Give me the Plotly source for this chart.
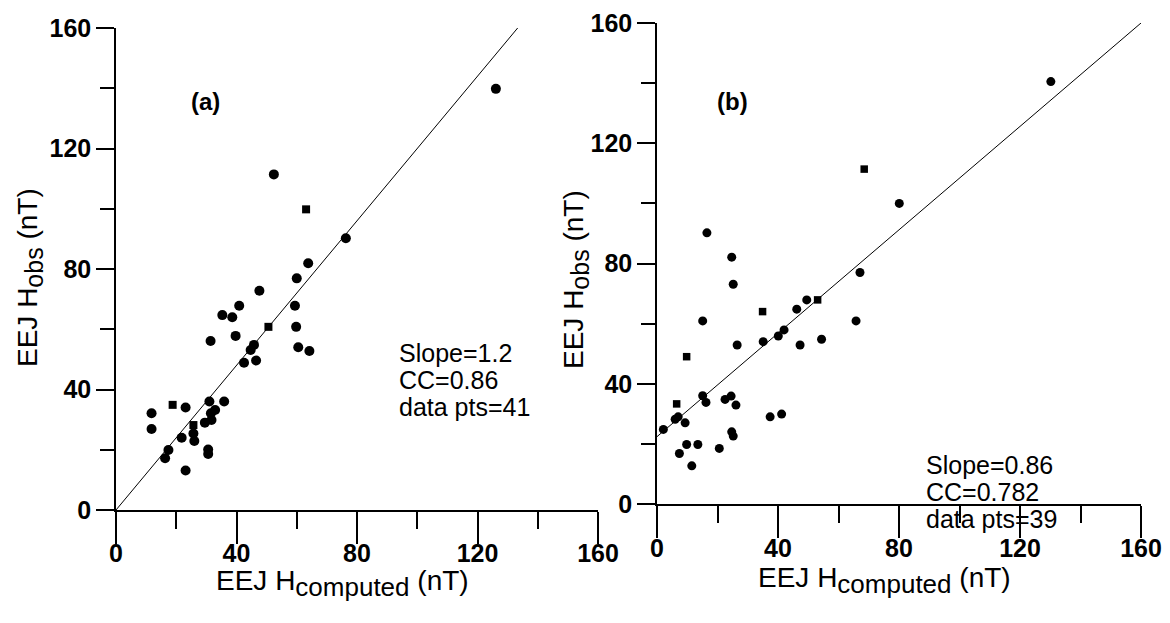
import plotly.graph_objects as go

# ---- Panel (a) data ----
a_circle_x = [63.8, 60.0, 47.6, 40.9, 35.3, 38.6, 59.4, 59.8, 39.7, 31.4, 45.8, 44.7, 60.5, 64.2,
              42.5, 46.5, 31.0, 35.9, 23.1, 11.8, 32.9, 31.5, 11.8, 31.7, 29.5, 25.7, 21.8, 26.0,
              17.4, 16.3, 30.6, 30.6, 23.1, 52.4, 126.1, 76.3]
a_circle_y = [81.9, 76.9, 72.8, 67.8, 64.7, 64.0, 67.8, 60.8, 57.8, 56.1, 54.8, 53.1, 54.0, 52.8,
              48.9, 49.6, 36.0, 36.0, 34.0, 32.1, 33.2, 32.1, 26.9, 29.9, 29.0, 25.4, 24.0, 22.9,
              19.9, 17.2, 20.1, 18.6, 13.1, 111.4, 139.8, 90.2]
a_square_x = [63.1, 18.8, 25.7, 50.6]
a_square_y = [99.8, 34.9, 28.2, 60.8]
a_slope, a_intercept = 1.2, 0.0

# ---- Panel (b) data ----
b_circle_x = [24.7, 25.2, 67.1, 49.5, 46.2, 65.8, 15.1, 42.0, 40.1, 35.1, 26.5, 47.3, 54.4,
              15.1, 16.2, 22.5, 24.5, 26.1, 37.4, 41.2, 6.0, 7.0, 9.3, 2.1, 24.7, 25.2, 9.8,
              13.5, 20.6, 7.4, 11.5, 80.1, 130.2, 16.5]
b_circle_y = [82.1, 73.1, 77.0, 67.9, 64.8, 60.9, 60.9, 57.9, 55.9, 54.0, 52.9, 52.9, 54.8,
              36.0, 33.8, 34.8, 35.9, 32.9, 29.0, 29.9, 28.2, 29.0, 27.0, 24.8, 24.0, 22.6, 19.8,
              19.8, 18.5, 16.8, 12.7, 100.0, 140.5, 90.2]
b_square_x = [68.5, 53.1, 34.9, 9.8, 6.5]
b_square_y = [111.4, 67.9, 64.0, 49.0, 33.3]
b_slope, b_intercept = 0.86, 22.4

tick_vals = [0, 40, 80, 120, 160]
tick_text = ["0", "40", "80", "120", "160"]

a_stats = ["Slope=1.2", "CC=0.86", "data pts=41"]
b_stats = ["Slope=0.86", "CC=0.782", "data pts=39"]

W, H = 1170, 623
FONT = "Liberation Sans, Arial, sans-serif"

def px_x(p):
    return p / W

def px_y(p):
    return 1 - p / H

fig = go.Figure()

mk = dict(color="black")
fig.add_trace(go.Scatter(x=a_circle_x, y=a_circle_y, mode="markers",
                         marker=dict(symbol="circle", size=10, **mk), xaxis="x", yaxis="y"))
fig.add_trace(go.Scatter(x=a_square_x, y=a_square_y, mode="markers",
                         marker=dict(symbol="square", size=8, **mk), xaxis="x", yaxis="y"))
a_xend = (160 - a_intercept) / a_slope
fig.add_trace(go.Scatter(x=[0, a_xend], y=[a_intercept, a_intercept + a_slope * a_xend],
                         mode="lines", line=dict(color="black", width=1), xaxis="x", yaxis="y"))

fig.add_trace(go.Scatter(x=b_circle_x, y=b_circle_y, mode="markers",
                         marker=dict(symbol="circle", size=9, **mk), xaxis="x2", yaxis="y2"))
fig.add_trace(go.Scatter(x=b_square_x, y=b_square_y, mode="markers",
                         marker=dict(symbol="square", size=7.5, **mk), xaxis="x2", yaxis="y2"))
fig.add_trace(go.Scatter(x=[0, 160], y=[b_intercept, b_intercept + b_slope * 160],
                         mode="lines", line=dict(color="black", width=1), xaxis="x2", yaxis="y2"))

def xax(domain, anchor, standoff):
    return dict(domain=domain, anchor=anchor, range=[0, 160], showgrid=False, zeroline=False,
                automargin=False,
                showline=True, linecolor="black", linewidth=1.5,
                tickmode="array", tickvals=tick_vals, ticktext=tick_text,
                ticks="outside", ticklen=32, tickwidth=1.5, tickcolor="black",
                ticklabelstandoff=standoff,
                minor=dict(dtick=20, tick0=0, ticks="outside", ticklen=17, tickwidth=1.5, tickcolor="black"),
                tickfont=dict(family=FONT, size=25, color="black", weight="bold"))

def yax(domain, anchor):
    return dict(domain=domain, anchor=anchor, range=[0, 160], showgrid=False, zeroline=False,
                automargin=False,
                showline=True, linecolor="black", linewidth=1.5,
                tickmode="array", tickvals=tick_vals, ticktext=tick_text,
                ticks="outside", ticklen=18, tickwidth=1.5, tickcolor="black",
                minor=dict(dtick=20, tick0=0, ticks="outside", ticklen=14, tickwidth=1.5, tickcolor="black"),
                tickfont=dict(family=FONT, size=25, color="black", weight="bold"))

fig.update_layout(
    width=W, height=H, margin=dict(l=0, r=0, t=0, b=0, autoexpand=False),
    paper_bgcolor="white", plot_bgcolor="white", showlegend=False,
    xaxis=xax([px_x(116), px_x(598)], "y", -12),
    yaxis=yax([px_y(510), px_y(28)], "x"),
    xaxis2=xax([px_x(657), px_x(1141)], "y2", -11),
    yaxis2=yax([px_y(504), px_y(23)], "x2"),
)

def ann(text, xp, yp, font, xanchor="center", angle=0):
    return dict(text=text, x=px_x(xp), y=px_y(yp), xref="paper", yref="paper", showarrow=False,
                xanchor=xanchor, yanchor="middle", font=font, textangle=angle)

tfont = dict(family=FONT, size=28, color="black")
xt = "EEJ H<sub><span style='font-size:26px'>computed</span></sub> (nT)"
yt = "EEJ H<sub><span style='font-size:25px'>obs</span></sub> (nT)"
anns = [
    ann(xt, 342, 583, tfont),
    ann(xt, 884, 580, tfont),
    ann(yt, 30, 278, tfont, angle=-90),
    ann(yt, 576, 280, tfont, angle=-90),
]
lfont = dict(family=FONT, size=24, color="black", weight="bold")
anns.append(ann("(a)", 205, 101, lfont))
anns.append(ann("(b)", 732, 101, lfont))

sfont = dict(family=FONT, size=25, color="black")
for i, s in enumerate(a_stats):
    anns.append(ann(s, 397, 353 + 27 * i, sfont, xanchor="left"))
for i, s in enumerate(b_stats):
    anns.append(ann(s, 924, 465 + 27 * i, sfont, xanchor="left"))
fig.update_layout(annotations=anns)

fig.write_html("out.html")
